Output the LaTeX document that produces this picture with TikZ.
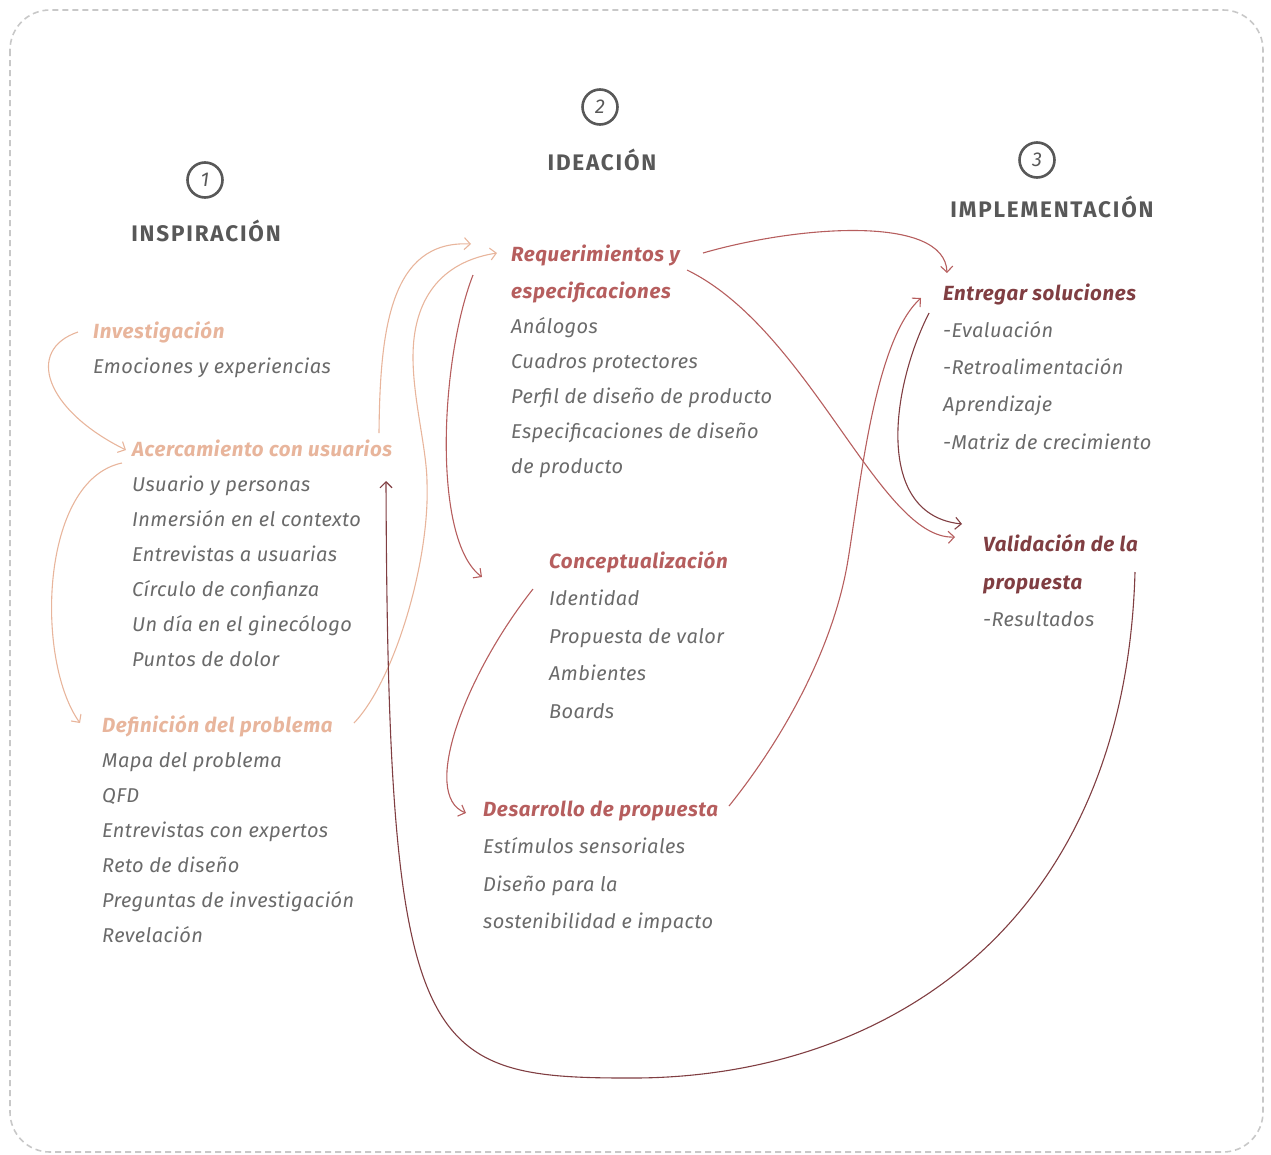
\documentclass[tikz,border=0pt]{standalone}
\usepackage{fontspec}
\setmainfont{Fira Sans}
\usetikzlibrary{arrows.meta}
\definecolor{peach}{RGB}{232,181,156}
\definecolor{rosered}{RGB}{182,94,94}
\definecolor{wine}{RGB}{128,62,66}
\definecolor{txtgray}{RGB}{106,106,106}
\definecolor{headgray}{RGB}{88,88,88}
\definecolor{framegray}{RGB}{200,200,200}

\begin{document}
\begin{tikzpicture}[x=1pt, y=-1pt,
  itemtxt/.style={anchor=base west, inner sep=0pt, text=txtgray, font=\fontsize{20}{24}\selectfont\itshape\addfontfeatures{LetterSpace=2}},
  stagehead/.style={anchor=base west, inner sep=0pt, font=\fontsize{20.5}{24}\selectfont\bfseries\itshape\addfontfeatures{LetterSpace=3}},
  phasetitle/.style={anchor=base, inner sep=0pt, text=headgray, font=\fontsize{22.5}{26}\selectfont\bfseries\addfontfeatures{LetterSpace=8}},
  numcirc/.style={circle, draw=headgray, line width=2.6pt, minimum size=35pt, inner sep=0pt, text=headgray, font=\fontsize{20}{22}\selectfont\itshape},
  flow/.style={line width=1.1pt, -{Straight Barb[length=6pt,width=12pt]}}
]
% frame and fixed size
\useasboundingbox (0,0) rectangle (1271,1154);
\draw[framegray, line width=1.6pt, dash pattern=on 6pt off 4pt, rounded corners=40pt] (10,10) rectangle (1263,1152);

% phase numbers and titles
\node[numcirc] (n1) at (205,180) {1};
\node[numcirc] (n2) at (600,107) {2};
\node[numcirc] (n3) at (1037,160) {3};
\node[phasetitle] (t1) at (206,241) {INSPIRACIÓN};
\node[phasetitle] (t2) at (602,170) {IDEACIÓN};
\node[phasetitle] (t3) at (1052,217) {IMPLEMENTACIÓN};

% inspiracion column
\node[stagehead, text=peach] (inv) at (93,338) {Investigación};
\node[itemtxt] (inv1) at (93,373) {Emociones y experiencias};

\node[stagehead, text=peach] (acer) at (132,456) {Acercamiento con usuarios};
\node[itemtxt] (acer1) at (132,491) {Usuario y personas};
\node[itemtxt] (acer2) at (132,526) {Inmersión en el contexto};
\node[itemtxt] (acer3) at (132,561) {Entrevistas a usuarias};
\node[itemtxt] (acer4) at (132,596) {Círculo de confianza};
\node[itemtxt] (acer5) at (132,631) {Un día en el ginecólogo};
\node[itemtxt] (acer6) at (132,666) {Puntos de dolor};

\node[stagehead, text=peach] (defi) at (102,732) {Definición del problema};
\node[itemtxt] (defi1) at (102,767) {Mapa del problema};
\node[itemtxt] (defi2) at (102,802) {QFD};
\node[itemtxt] (defi3) at (102,837) {Entrevistas con expertos};
\node[itemtxt] (defi4) at (102,872) {Reto de diseño};
\node[itemtxt] (defi5) at (102,907) {Preguntas de investigación};
\node[itemtxt] (defi6) at (102,942) {Revelación};

% ideacion column
\node[stagehead, text=rosered] (req) at (511,261) {Requerimientos y};
\node[stagehead, text=rosered] (req2) at (511,298) {especificaciones};
\node[itemtxt] (req3) at (511,333) {Análogos};
\node[itemtxt] (req4) at (511,368) {Cuadros protectores};
\node[itemtxt] (req5) at (511,403) {Perfil de diseño de producto};
\node[itemtxt] (req6) at (511,438) {Especificaciones de diseño};
\node[itemtxt] (req7) at (511,473) {de producto};

\node[stagehead, text=rosered] (conc) at (549,568) {Conceptualización};
\node[itemtxt] (conc1) at (549,605) {Identidad};
\node[itemtxt] (conc2) at (549,643) {Propuesta de valor};
\node[itemtxt] (conc3) at (549,680) {Ambientes};
\node[itemtxt] (conc4) at (549,718) {Boards};

\node[stagehead, text=rosered] (desa) at (483,816) {Desarrollo de propuesta};
\node[itemtxt] (desa1) at (483,853) {Estímulos sensoriales};
\node[itemtxt] (desa2) at (483,891) {Diseño para la};
\node[itemtxt] (desa3) at (483,928) {sostenibilidad e impacto};

% implementacion column
\node[stagehead, text=wine] (entr) at (943,300) {Entregar soluciones};
\node[itemtxt] (entr1) at (943,337) {-Evaluación};
\node[itemtxt] (entr2) at (943,374) {-Retroalimentación};
\node[itemtxt] (entr3) at (943,411) {Aprendizaje};
\node[itemtxt] (entr4) at (943,449) {-Matriz de crecimiento};

\node[stagehead, text=wine] (vali) at (983,551) {Validación de la};
\node[stagehead, text=wine] (vali2) at (983,589) {propuesta};
\node[itemtxt] (vali3) at (983,626) {-Resultados};

% peach arrows (inspiracion)
\draw[flow, peach] ([xshift=-15pt,yshift=6pt]inv.base west) .. controls +(-53,18) and +(-81,-40) .. ([xshift=-6pt,yshift=6pt]acer.base west);
\draw[flow, peach] ([xshift=-10pt,yshift=-7pt]acer.base west) .. controls +(-82,17) and +(-45,-63) .. ([xshift=-22pt,yshift=9pt]defi.base west);
\draw[flow, peach] ([xshift=247pt,yshift=23pt]acer.base west) .. controls +(1,-103) and +(-81,-4) .. ([xshift=-40pt,yshift=17pt]req.base west);
\draw[flow, peach] ([xshift=252pt,yshift=9pt]defi.base west) .. controls +(41,-43) and +(3,77) .. ++(73,-240)
  .. controls +(0,-33) and +(0,43) .. ++(-14,-126)
  .. controls +(0,-57) and +(-57,9) .. ([xshift=-14pt,yshift=8pt]req.base west);

% red arrows (ideacion)
\draw[flow, rosered] ([xshift=-38pt,yshift=-14pt]req.base west) .. controls +(-33,85) and +(-50,-37) .. ([xshift=-67pt,yshift=-9pt]conc.base west);
\draw[flow, rosered] ([xshift=192pt,yshift=8pt]req.base west) .. controls +(97,-28) and +(-2,-58) .. ([xshift=4pt,yshift=27pt]entr.base west);
\draw[flow, rosered] ([xshift=176pt,yshift=-9pt]req.base west) .. controls +(123,60) and +(-75,3) .. ([xshift=-28pt,yshift=14pt]vali.base west);
\draw[flow, rosered] ([xshift=-16pt,yshift=-21pt]conc.base west) .. controls +(-68,86) and +(-46,-18) .. ([xshift=-17pt,yshift=3pt]desa.base west);
\draw[flow, rosered] ([xshift=246pt,yshift=10pt]desa.base west) .. controls +(61,-76) and +(-13,80) .. ++(119,-246)
  .. controls +(13,-80) and +(-46,42) .. ([xshift=-22pt,yshift=2pt]entr.base west);

% dark arrows (implementacion)
\draw[flow, wine] ([xshift=-14pt,yshift=-13pt]entr.base west) .. controls +(-39,77) and +(-87,-9) .. ([xshift=-21pt,yshift=27pt]vali.base west);
\draw[flow, wine] ([xshift=152pt,yshift=-21pt]vali.base west) .. controls +(-10,358) and +(253,2) .. ++(-508,506)
  .. controls +(-207,0) and +(2,569) .. ([xshift=254pt,yshift=-25pt]acer.base west);

\end{tikzpicture}
\end{document}
